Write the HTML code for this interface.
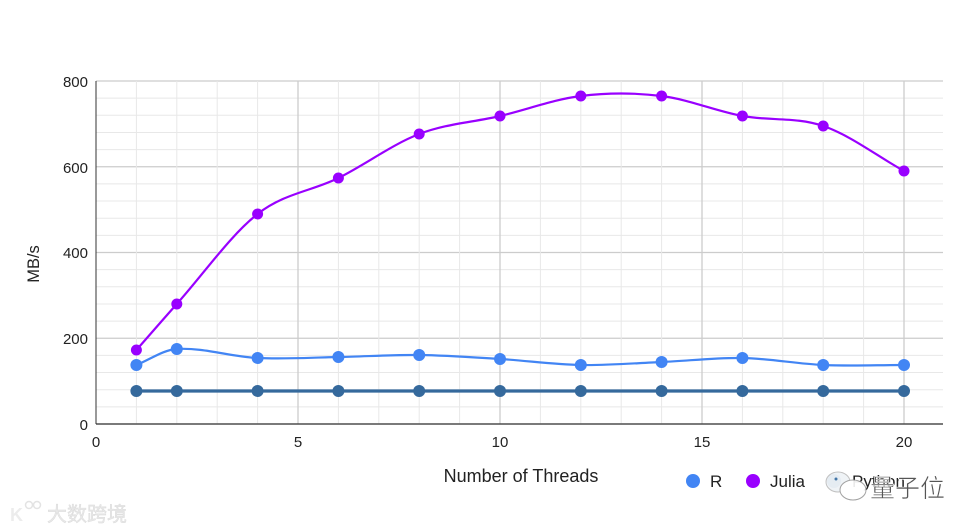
<!DOCTYPE html>
<html><head><meta charset="utf-8">
<style>
html,body{margin:0;padding:0;background:#fff;width:975px;height:531px;overflow:hidden;}
svg{display:block;}
text{font-family:"Liberation Sans",Arial,sans-serif;}
</style></head>
<body>
<svg id="c" width="975" height="531" viewBox="0 0 975 531" xmlns="http://www.w3.org/2000/svg">
<rect width="975" height="531" fill="#fff"/>
<g id="grid"></g>
<line x1="96" y1="81" x2="96" y2="424" stroke="#333" stroke-width="1"/>
<line x1="96" y1="424" x2="943" y2="424" stroke="#333" stroke-width="1.2"/>
<g font-size="15" fill="#222" text-anchor="end">
<text x="88" y="87">800</text>
<text x="88" y="173">600</text>
<text x="88" y="258">400</text>
<text x="88" y="344">200</text>
<text x="88" y="430">0</text>
</g>
<g font-size="15" fill="#222" text-anchor="middle">
<text x="96" y="447">0</text>
<text x="298" y="447">5</text>
<text x="500" y="447">10</text>
<text x="702" y="447">15</text>
<text x="904" y="447">20</text>
</g>
<text x="521" y="482" font-size="18" fill="#222" text-anchor="middle">Number of Threads</text>
<text transform="translate(39,264) rotate(-90)" font-size="16.5" fill="#222" text-anchor="middle">MB/s</text>
<g id="series"></g>
<!-- legend -->
<circle cx="693" cy="481" r="7" fill="#4285f4"/>
<text x="710" y="487" font-size="17" fill="#222">R</text>
<circle cx="753" cy="481" r="7" fill="#9900ff"/>
<text x="770" y="487" font-size="17" fill="#222">Julia</text>
<circle cx="834" cy="481" r="7" fill="#3a70a3" opacity="0.5"/>
<text x="852" y="487" font-size="17" fill="#222">Python</text>
<!-- watermark right -->
<g opacity="0.9">
<ellipse cx="838" cy="482" rx="12" ry="10" fill="#eef2f6" stroke="#bbb" stroke-width="1"/>
<ellipse cx="853" cy="490" rx="13" ry="10" fill="#fff" stroke="#999" stroke-width="1"/>
<circle cx="836" cy="479" r="1.5" fill="#3a70a3"/>
</g>
<text x="870" y="497" font-size="25" fill="#555" font-family="Liberation Sans, Noto Sans CJK SC, sans-serif" stroke="#fff" stroke-width="0.6">量子位</text>
<!-- watermark left -->
<g>
<text x="10" y="521" font-size="18" font-weight="bold" fill="#ececec">K</text>
<circle cx="29" cy="505" r="3.5" fill="none" stroke="#e3e3e3" stroke-width="1.5"/>
<circle cx="37" cy="505" r="3.5" fill="none" stroke="#e3e3e3" stroke-width="1.5"/>
<text x="47" y="521" font-size="20" font-family="Liberation Sans, Noto Sans CJK SC, sans-serif" fill="#e8e8e8" stroke="#d8d8d8" stroke-width="0.4">大数跨境</text>
</g>
</svg>
<script>
(function(){
var ns="http://www.w3.org/2000/svg";
var grid=document.getElementById('grid');
function line(x1,y1,x2,y2,col,w){var l=document.createElementNS(ns,'line');l.setAttribute('x1',x1);l.setAttribute('y1',y1);l.setAttribute('x2',x2);l.setAttribute('y2',y2);l.setAttribute('stroke',col);l.setAttribute('stroke-width',w);grid.appendChild(l);}
for(var k=0;k<=20;k++){var y=424-k*17.15;var major=(k%5==0);line(96,y,943,y,major?'#cccccc':'#e8e8e8',major?1.3:1);}
for(var i=1;i<=21;i++){var x=96+i*40.4;if(x>943.5)break;var major=(i%5==0);line(x,81,x,424,major?'#cccccc':'#e8e8e8',major?1.3:1);}
var xs=[1,2,4,6,8,10,12,14,16,18,20].map(function(v){return 96+v*40.4;});
var julia=[350,304,214,178,134,116,96,96,116,126,171];
var r=[365,349,358,357,355,359,365,362,358,365,365];
var py=[391,391,391,391,391,391,391,391,391,391,391];
var g=document.getElementById('series');
function smooth(ys){
 var p=xs.map(function(x,i){return [x,ys[i]];});
 var d='M'+p[0][0]+','+p[0][1];
 for(var i=0;i<p.length-1;i++){
  var p0=p[i-1]||p[i],p1=p[i],p2=p[i+1],p3=p[i+2]||p[i+1];
  var dx=p2[0]-p1[0];
  var m1=(p2[1]-p0[1])/(p2[0]-p0[0]);
  var m2=(p3[1]-p1[1])/(p3[0]-p1[0]);
  var cx1=p1[0]+dx/3, cy1=p1[1]+m1*dx/3;
  var cx2=p2[0]-dx/3, cy2=p2[1]-m2*dx/3;
  d+=' C'+cx1+','+cy1+' '+cx2+','+cy2+' '+p2[0]+','+p2[1];
 }
 return d;
}
function series(ys,col,w,rad,sm){
 var pth=document.createElementNS(ns,'path');
 pth.setAttribute('d',sm?smooth(ys):'M'+xs.map(function(x,i){return x+','+ys[i];}).join(' L'));
 pth.setAttribute('fill','none');pth.setAttribute('stroke',col);pth.setAttribute('stroke-width',w);
 g.appendChild(pth);
 xs.forEach(function(x,i){var c=document.createElementNS(ns,'circle');c.setAttribute('cx',x);c.setAttribute('cy',ys[i]);c.setAttribute('r',rad);c.setAttribute('fill',col);g.appendChild(c);});
}
series(py,'#35699c',3.2,6,false);
series(r,'#4285f4',2.2,6,true);
series(julia,'#9900ff',2.2,5.5,true);
})();
</script>
</body></html>
